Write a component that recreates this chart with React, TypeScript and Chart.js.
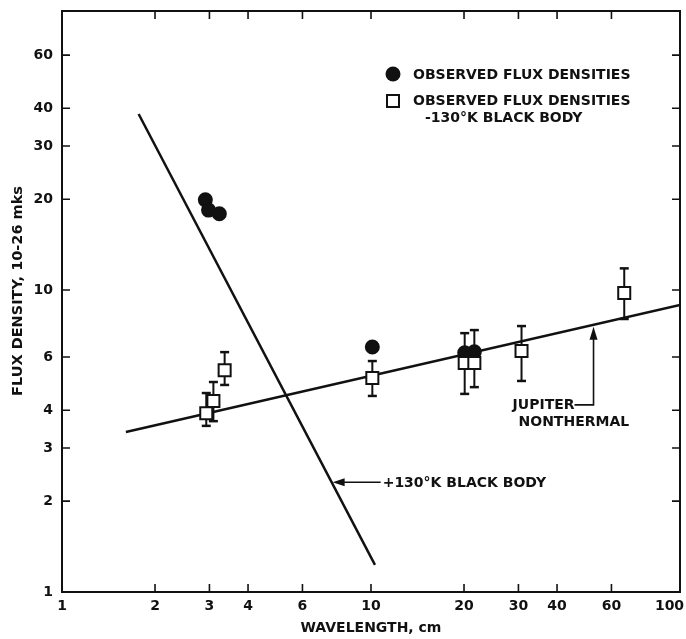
import React, { useEffect, useRef } from "react";
import { Chart, registerables } from "chart.js";

Chart.register(...registerables);

// ---- data ----
const xTicks = [1, 2, 3, 4, 6, 10, 20, 30, 40, 60, 100];
const yTicks = [1, 2, 3, 4, 6, 10, 20, 30, 40, 60];

// Observed flux densities (filled circles)
const observedX = [2.91, 2.98, 3.23, 10.1, 20.1, 21.6];
const observedY = [19.9, 18.4, 17.9, 6.48, 6.2, 6.25];

// Observed flux densities minus 130 K black body (open squares, with error bars)
const correctedX = [2.93, 3.09, 3.36, 10.1, 20.1, 21.6, 30.7, 66];
const correctedY = [3.91, 4.29, 5.43, 5.11, 5.73, 5.73, 6.28, 9.78];
const correctedLow = [3.55, 3.68, 4.85, 4.46, 4.53, 4.77, 5.0, 8.02];
const correctedHigh = [4.56, 4.96, 6.23, 5.82, 7.2, 7.37, 7.6, 11.8];

// Jupiter nonthermal fit line
const nonthermalX = [1.61, 100];
const nonthermalY = [3.39, 8.92];

// +130 K black body line
const blackBodyX = [1.77, 10.3];
const blackBodyY = [38.3, 1.23];

// annotation anchors (data values)
const blackBodyArrowY = 2.31;
const jupiterArrowX = 52.5;

const INK = "#111";
const FONT = "'DejaVu Sans', sans-serif";

function interpLog(xs: number[], ys: number[], xv: number) {
  const lx0 = Math.log10(xs[0]), lx1 = Math.log10(xs[1]);
  const ly0 = Math.log10(ys[0]), ly1 = Math.log10(ys[1]);
  const t = (Math.log10(xv) - lx0) / (lx1 - lx0);
  return Math.pow(10, ly0 + t * (ly1 - ly0));
}
function interpLogInv(xs: number[], ys: number[], yv: number) {
  return interpLog(ys, xs, yv);
}

const framePlugin = {
  id: "frameAndNotes",
  afterDraw(chart: any) {
    const { ctx, chartArea: a, scales } = chart;
    const x = scales.x, y = scales.y;
    ctx.save();
    ctx.strokeStyle = INK;
    ctx.fillStyle = INK;
    // frame
    ctx.lineWidth = 2;
    ctx.strokeRect(a.left, a.top, a.right - a.left, a.bottom - a.top);
    // inward ticks
    ctx.lineWidth = 1.6;
    const TL = 8;
    ctx.beginPath();
    xTicks.forEach((v) => {
      const px = x.getPixelForValue(v);
      if (px <= a.left + 1 || px >= a.right - 1) return;
      ctx.moveTo(px, a.bottom);
      ctx.lineTo(px, a.bottom - TL);
      ctx.moveTo(px, a.top);
      ctx.lineTo(px, a.top + TL);
    });
    yTicks.forEach((v) => {
      const py = y.getPixelForValue(v);
      if (py >= a.bottom - 1 || py <= a.top + 1) return;
      ctx.moveTo(a.left, py);
      ctx.lineTo(a.left + TL, py);
      ctx.moveTo(a.right, py);
      ctx.lineTo(a.right - TL, py);
    });
    ctx.stroke();

    ctx.font = `bold 14px ${FONT}`;
    ctx.textBaseline = "middle";

    // legend
    ctx.beginPath();
    ctx.arc(393, 74, 7.5, 0, Math.PI * 2);
    ctx.fill();
    ctx.lineWidth = 2;
    ctx.fillStyle = "#fff";
    ctx.fillRect(387, 95, 12, 12);
    ctx.strokeRect(387, 95, 12, 12);
    ctx.fillStyle = INK;
    ctx.textAlign = "left";
    ctx.fillText("OBSERVED FLUX DENSITIES", 413, 75);
    ctx.fillText("OBSERVED FLUX DENSITIES", 413, 101);
    ctx.fillText("-130°K BLACK BODY", 425, 118);

    // black body annotation
    const bbX = interpLogInv(blackBodyX, blackBodyY, blackBodyArrowY);
    const tx = x.getPixelForValue(bbX);
    const ty = y.getPixelForValue(blackBodyArrowY);
    ctx.lineWidth = 1.6;
    ctx.beginPath();
    ctx.moveTo(tx + 8, ty);
    ctx.lineTo(tx + 49, ty);
    ctx.stroke();
    ctx.beginPath();
    ctx.moveTo(tx + 1, ty);
    ctx.lineTo(tx + 13, ty - 4);
    ctx.lineTo(tx + 13, ty + 4);
    ctx.closePath();
    ctx.fill();
    ctx.fillText("+130°K BLACK BODY", tx + 51, ty + 1);

    // jupiter annotation
    const jY = interpLog(nonthermalX, nonthermalY, jupiterArrowX);
    const jx = x.getPixelForValue(jupiterArrowX);
    const jy = y.getPixelForValue(jY) + 2;
    ctx.beginPath();
    ctx.moveTo(jx, jy + 8);
    ctx.lineTo(jx, jy + 78);
    ctx.lineTo(jx - 19, jy + 78);
    ctx.stroke();
    ctx.beginPath();
    ctx.moveTo(jx, jy);
    ctx.lineTo(jx - 4, jy + 13);
    ctx.lineTo(jx + 4, jy + 13);
    ctx.closePath();
    ctx.fill();
    ctx.textAlign = "right";
    ctx.fillText("JUPITER", jx - 19, jy + 79);
    ctx.textAlign = "left";
    ctx.fillText("NONTHERMAL", jx - 75, jy + 96);

    // y-axis title
    ctx.translate(18, 291);
    ctx.rotate(-Math.PI / 2);
    ctx.textAlign = "center";
    ctx.font = `bold 14.5px ${FONT}`;
    ctx.fillText("FLUX DENSITY, 10-26 mks", 0, 0);
    ctx.restore();
  },
};

export default function App() {
  const ref = useRef<HTMLCanvasElement>(null);
  useEffect(() => {
    const canvas = ref.current;
    if (!canvas) return;

    const errData: any[] = [];
    correctedX.forEach((xv, i) => {
      errData.push({ x: xv, y: correctedLow[i] });
      errData.push({ x: xv, y: correctedHigh[i] });
      errData.push({ x: xv, y: null });
    });

    const tickFont = { family: FONT, size: 14, weight: "bold" as const };

    const chart = new Chart(canvas, {
      type: "scatter",
      data: {
        datasets: [
          {
            label: "OBSERVED FLUX DENSITIES -130°K BLACK BODY",
            data: correctedX.map((xv, i) => ({ x: xv, y: correctedY[i] })),
            pointStyle: "rect",
            pointRadius: 8.5,
            pointBackgroundColor: "#fff",
            pointBorderColor: INK,
            pointBorderWidth: 2,
            order: 0,
          },
          {
            label: "OBSERVED FLUX DENSITIES",
            data: observedX.map((xv, i) => ({ x: xv, y: observedY[i] })),
            pointStyle: "circle",
            pointRadius: 6.5,
            pointBackgroundColor: INK,
            pointBorderColor: INK,
            pointBorderWidth: 2,
            order: 1,
          },
          {
            label: "error bars",
            data: errData,
            showLine: true,
            spanGaps: false,
            borderColor: INK,
            borderWidth: 2,
            pointStyle: "line",
            pointRadius: 4.5,
            pointBorderColor: INK,
            pointBorderWidth: 2.5,
            order: 2,
          },
          {
            label: "Jupiter nonthermal",
            data: nonthermalX.map((xv, i) => ({ x: xv, y: nonthermalY[i] })),
            showLine: true,
            borderColor: INK,
            borderWidth: 2.5,
            pointRadius: 0,
            order: 3,
          },
          {
            label: "+130°K black body",
            data: blackBodyX.map((xv, i) => ({ x: xv, y: blackBodyY[i] })),
            showLine: true,
            borderColor: INK,
            borderWidth: 2.5,
            pointRadius: 0,
            order: 3,
          },
        ],
      },
      options: {
        responsive: false,
        animation: false,
        layout: {
          autoPadding: false,
          padding: { left: 0, right: 6, top: 11, bottom: 0 },
        },
        plugins: {
          legend: { display: false },
          tooltip: { enabled: false },
        },
        scales: {
          x: {
            type: "logarithmic",
            min: 1,
            max: 100,
            grid: { display: false, drawTicks: false },
            border: { display: false },
            afterBuildTicks: (s: any) => {
              s.ticks = xTicks.map((v) => ({ value: v }));
            },
            afterFit: (s: any) => {
              s.height = 47;
              s.paddingLeft = 0;
              s.paddingRight = 0;
            },
            ticks: {
              autoSkip: false,
              maxRotation: 0,
              minRotation: 0,
              padding: 6,
              color: INK,
              font: tickFont,
              callback: (v: any) => (v === 100 ? "100\u2003\u2002" : String(v)),
            },
            title: {
              display: true,
              text: "WAVELENGTH, cm",
              color: INK,
              font: tickFont,
              padding: { top: 0, bottom: 2 },
            },
          },
          y: {
            type: "logarithmic",
            min: 1,
            max: 84,
            grid: { display: false, drawTicks: false },
            border: { display: false },
            afterBuildTicks: (s: any) => {
              s.ticks = yTicks.map((v) => ({ value: v }));
            },
            afterFit: (s: any) => {
              s.width = 62;
              s.paddingTop = 0;
              s.paddingBottom = 0;
              s.paddingLeft = 0;
              s.paddingRight = 0;
            },
            ticks: {
              autoSkip: false,
              padding: 9,
              color: INK,
              font: tickFont,
              callback: (v: any) => String(v),
            },
          },
        },
      },
      plugins: [framePlugin],
    });
    return () => chart.destroy();
  }, []);

  return (
    <div
      style={{
        position: "absolute",
        left: 0,
        top: 0,
        width: 686,
        height: 639,
        background: "#fff",
      }}
    >
      <canvas ref={ref} width={686} height={639} style={{ display: "block" }} />
    </div>
  );
}
